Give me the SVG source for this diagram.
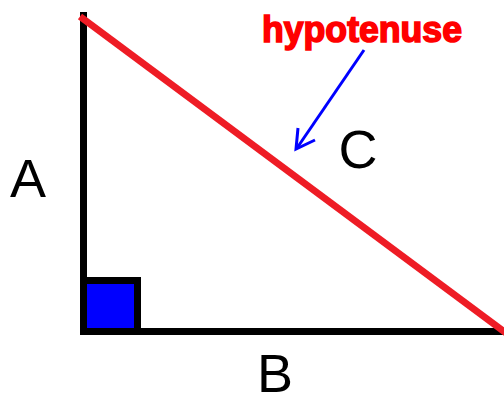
<svg xmlns="http://www.w3.org/2000/svg" width="504" height="403" viewBox="0 0 504 403">
<style>
.lbl{font-family:"Liberation Sans",Arial,sans-serif;font-size:54px;fill:#000;text-anchor:middle}
.side{stroke:#000;stroke-width:7;fill:none}
</style>
<rect width="504" height="403" fill="#fff"/>
<g id="triangle">
<line class="side" x1="83.5" y1="12" x2="83.5" y2="335"/>
<line class="side" x1="80" y1="331.5" x2="504" y2="331.5"/>
<rect x="83.5" y="280.5" width="54" height="51" fill="#0000ff" stroke="#000" stroke-width="7"/>
</g>
<g id="hypotenuse-line">
<line x1="80" y1="16.5" x2="506" y2="333" stroke="#ee1c25" stroke-width="7"/>
</g>
<g id="connectors">
<line x1="364" y1="50" x2="297" y2="148" stroke="#0000ff" stroke-width="3"/>
<polyline points="298,128 296,149 315,140" fill="none" stroke="#0000ff" stroke-width="3"/>
</g>
<g id="labels">
<text class="lbl" x="28" y="197">A</text>
<text class="lbl" x="275" y="392">B</text>
<text class="lbl" x="358" y="168">C</text>
<text x="262" y="42" font-family="Liberation Sans,Arial,sans-serif" font-weight="bold" font-size="36" fill="#ff0000" stroke="#ff0000" stroke-width="1.6" textLength="200" lengthAdjust="spacingAndGlyphs">hypotenuse</text>
</g>
</svg>
